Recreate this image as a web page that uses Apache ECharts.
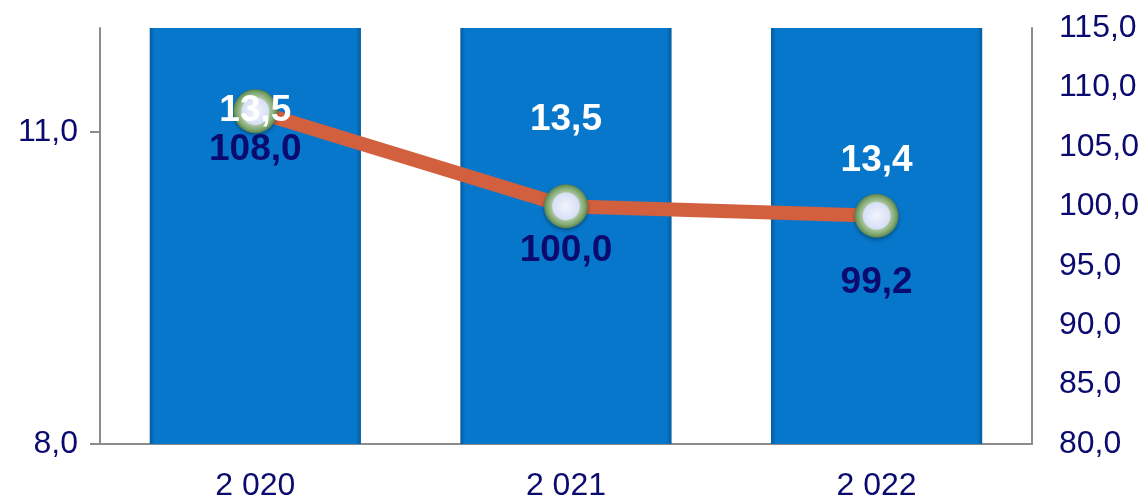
<!DOCTYPE html>
<html><head><meta charset="utf-8">
<script src="https://cdn.jsdelivr.net/npm/echarts@6/dist/echarts.min.js"></script>
<style>html,body{margin:0;padding:0;background:#fff}#c{width:1142px;height:502px}</style>
</head><body><div id="c"></div>
<script>
const categories = ['2 020', '2 021', '2 022'];
const barValues = [13.5, 13.5, 13.4];
const lineValues = [108.0, 100.0, 99.2];
const leftTicks = { min: 8, max: 12, interval: 3 };
const rightTicks = { min: 80, max: 115, interval: 5 };

// label placement (layout only)
const barLabelOffsets = [59, 68, 109];
const lineLabelOffsets = [-2, 4, 27];

const fmt = v => v.toFixed(1).replace('.', ',');
const navy = '#0b0b6f';
const font = 'Liberation Sans, Arial';
const chart = echarts.init(document.getElementById('c'));
chart.setOption({
  animation: false,
  grid: { left: 100, right: 110, top: 28, bottom: 50 },
  xAxis: {
    type: 'category', data: categories,
    axisLine: { lineStyle: { color: '#8c8c8c', width: 2 } },
    axisTick: { alignWithLabel: true, inside: true, length: 7, lineStyle: { color: '#8c8c8c', width: 2 } },
    axisLabel: { color: navy, fontSize: 32, fontFamily: font, margin: 26 }
  },
  yAxis: [{
    type: 'value', min: leftTicks.min, max: leftTicks.max, interval: leftTicks.interval,
    splitLine: { show: false },
    axisLine: { show: true, lineStyle: { color: '#8c8c8c', width: 2 } },
    axisTick: { show: true, length: 10, lineStyle: { color: '#8c8c8c', width: 2 } },
    axisLabel: { color: navy, fontSize: 32, fontFamily: font, margin: 22, formatter: fmt, showMaxLabel: false }
  }, {
    type: 'value', min: rightTicks.min, max: rightTicks.max, interval: rightTicks.interval,
    position: 'right',
    splitLine: { show: false },
    axisLine: { show: true, lineStyle: { color: '#8c8c8c', width: 2 } },
    axisTick: { show: false },
    axisLabel: { color: navy, fontSize: 32, fontFamily: font, margin: 27, formatter: fmt }
  }],
  series: [{
    type: 'bar', yAxisIndex: 0, barWidth: '68%', clip: true, z: 2,
    itemStyle: {
      color: new echarts.graphic.LinearGradient(0, 0, 1, 0, [
        { offset: 0, color: '#055c9e' }, { offset: 0.025, color: '#0777cc' },
        { offset: 0.975, color: '#0777cc' }, { offset: 1, color: '#055c9e' }
      ])
    },
    data: barValues
  }, {
    type: 'line', yAxisIndex: 1, z: 3,
    lineStyle: { color: '#d2603f', width: 14 },
    symbol: 'circle', symbolSize: 44,
    itemStyle: {
      color: new echarts.graphic.RadialGradient(0.5, 0.5, 0.5, [
        { offset: 0, color: '#f2f4fd' }, { offset: 0.6, color: '#d8e0f6' },
        { offset: 0.66, color: '#a7c29a' }, { offset: 0.85, color: '#7fa870' }, { offset: 1, color: '#5a824c' }
      ]),
      shadowColor: 'rgba(0,0,0,0.35)', shadowBlur: 4, shadowOffsetY: 2
    },
    data: lineValues.map((v, i) => ({
      value: v,
      label: { show: true, position: 'bottom', distance: lineLabelOffsets[i], color: navy,
        fontSize: 37, fontWeight: 'bold', fontFamily: font, formatter: p => fmt(p.value) }
    }))
  }, {
    type: 'bar', yAxisIndex: 0, barWidth: '68%', barGap: '-100%', clip: true, z: 5,
    itemStyle: { color: 'rgba(0,0,0,0)' },
    data: barValues.map((v, i) => ({
      value: v,
      label: { show: true, position: 'insideTop', offset: [0, barLabelOffsets[i]], color: '#fff',
        fontSize: 37, fontWeight: 'bold', fontFamily: font, formatter: p => fmt(p.value) }
    }))
  }]
});
</script></body></html>
